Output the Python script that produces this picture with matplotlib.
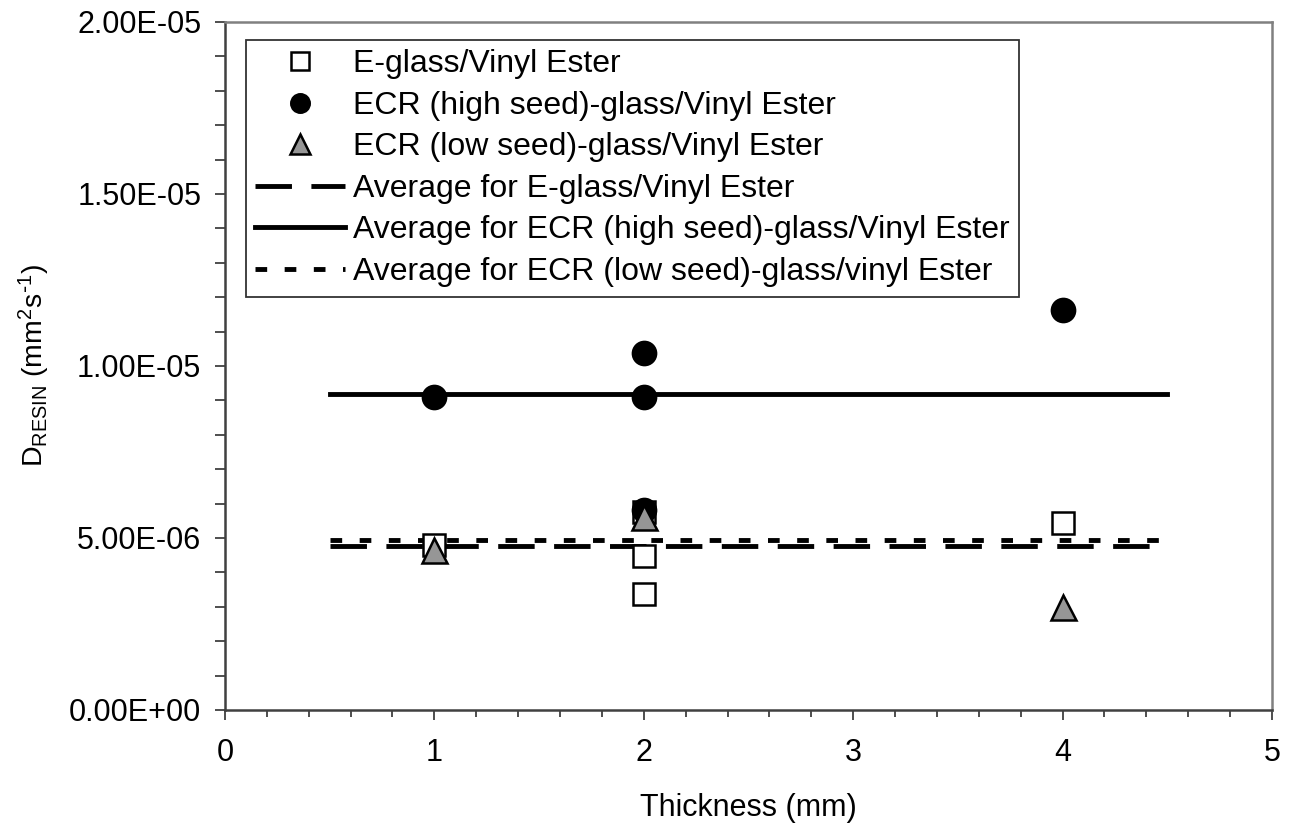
import numpy as np
import matplotlib.pyplot as plt
from matplotlib.ticker import MultipleLocator, FormatStrFormatter

plt.rcParams['font.family'] = ['Liberation Sans', 'DejaVu Sans']
plt.rcParams['mathtext.default'] = 'regular'

# D_resin values (mm^2/s) by laminate thickness (mm)
t_eglass = [1, 2, 2, 2, 4]
d_eglass = [4.80e-6, 4.48e-6, 3.37e-6, 5.75e-6, 5.44e-6]

t_high = [1, 2, 2, 2, 4]
d_high = [9.10e-6, 1.037e-5, 9.10e-6, 5.82e-6, 1.163e-5]

t_low = [1, 2, 4]
d_low = [4.65e-6, 5.62e-6, 3.00e-6]

# averages drawn as horizontal lines
avg_x = [0.5, 4.5]
avg_eglass = 4.77e-6
avg_high = 9.19e-6
avg_low = 4.93e-6

fig, ax = plt.subplots(figsize=(12.92, 8.33), dpi=100)
fig.subplots_adjust(left=0.1741, right=0.9845, bottom=0.1477, top=0.9736)

lw = 3.5
l_e, = ax.plot(avg_x, [avg_eglass] * 2, color='black', lw=lw, dashes=(7.5, 4),
               dash_capstyle='butt', zorder=2, label='Average for E-glass/Vinyl Ester')
l_h, = ax.plot(avg_x, [avg_high] * 2, color='black', lw=lw, zorder=2,
               label='Average for ECR (high seed)-glass/Vinyl Ester')
l_l, = ax.plot(avg_x, [avg_low] * 2, color='black', lw=lw, dashes=(2.4, 3.6),
               dash_capstyle='butt', zorder=2, label='Average for ECR (low seed)-glass/vinyl Ester')

m_e, = ax.plot(t_eglass, d_eglass, ls='none', marker='s', ms=16, mfc='white',
               mec='black', mew=1.8, zorder=3, label='E-glass/Vinyl Ester')
m_h, = ax.plot(t_high, d_high, ls='none', marker='o', ms=17, mfc='black',
               mec='black', mew=1.5, zorder=4, label='ECR (high seed)-glass/Vinyl Ester')
m_l, = ax.plot(t_low, d_low, ls='none', marker='^', ms=18, mfc='#969696',
               mec='black', mew=1.8, zorder=5, label='ECR (low seed)-glass/Vinyl Ester')

ax.set_xlim(0, 5)
ax.set_ylim(0, 2.0e-5)
ax.xaxis.set_major_locator(MultipleLocator(1))
ax.xaxis.set_minor_locator(MultipleLocator(0.2))
ax.yaxis.set_major_locator(MultipleLocator(5e-6))
ax.yaxis.set_minor_locator(MultipleLocator(1e-6))
ax.yaxis.set_major_formatter(FormatStrFormatter('%.2E'))

ax.tick_params(axis='both', which='major', labelsize=22, length=7, width=1.3, color='#404040')
ax.tick_params(axis='y', which='major', pad=10)
ax.tick_params(axis='x', which='major', pad=13)
ax.tick_params(axis='y', which='minor', length=7, width=1.3, color='#404040')
ax.tick_params(axis='x', which='minor', length=5, width=1.3, color='#404040')

for side in ['left', 'bottom']:
    ax.spines[side].set_color('#404040')
    ax.spines[side].set_linewidth(1.8)
for side in ['top', 'right']:
    ax.spines[side].set_color('#808080')
    ax.spines[side].set_linewidth(1.8)

ax.set_xlabel('Thickness (mm)', fontsize=22, labelpad=18)
ax.set_ylabel(r'D$_{RESIN}$ (mm$^{2}$s$^{\text{-}1}$)', fontsize=20.5, labelpad=12)

leg = ax.legend(handles=[m_e, m_h, m_l, l_e, l_h, l_l], loc='upper left',
                bbox_to_anchor=(0.020, 0.974), borderaxespad=0, fontsize=23,
                fancybox=False, frameon=True, markerscale=0.8, handlelength=2.8,
                handletextpad=0.25, labelspacing=0.36, borderpad=0.3)
leg.get_frame().set_edgecolor('black')
leg.get_frame().set_linewidth(1.3)

plt.savefig('out.png', dpi=100)
